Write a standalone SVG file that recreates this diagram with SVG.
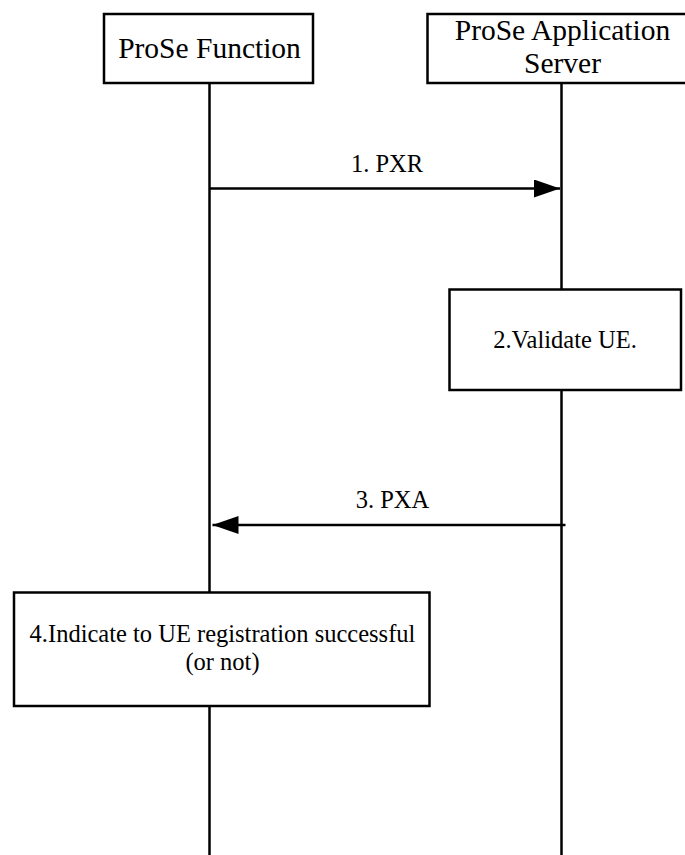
<svg xmlns="http://www.w3.org/2000/svg" width="685" height="855" viewBox="0 0 685 855">
<style>
.box{fill:#fff;stroke:#000;stroke-width:2.5}
.life{stroke:#000;stroke-width:2.5;fill:none}
.msg{stroke:#000;stroke-width:2.5;fill:none}
text{font-family:'Liberation Serif','Times New Roman',serif;fill:#000;text-anchor:middle}
.h{font-size:29.5px}
.s{font-size:24.5px}
</style>
<defs>
<marker id="ah" markerUnits="userSpaceOnUse" markerWidth="28" markerHeight="20" refX="26" refY="9" orient="auto">
<path d="M0,0 L26,9 L0,18 Z" fill="#000"/>
</marker>
</defs>
<rect width="685" height="855" fill="#fff"/>
<g id="lifelines">
<line class="life" x1="209.5" y1="83" x2="209.5" y2="855"/>
<line class="life" x1="561.5" y1="83" x2="561.5" y2="855"/>
</g>
<g id="pf">
<rect class="box" x="104" y="14" width="209" height="69"/>
<text class="h" x="209.5" y="57.5">ProSe Function</text>
</g>
<g id="pas">
<rect class="box" x="427.5" y="14" width="270" height="69"/>
<text class="h" x="562.5" y="39.5">ProSe Application</text>
<text class="h" x="562.5" y="73">Server</text>
</g>
<g id="connectors">
<line class="msg" x1="209.5" y1="188.5" x2="560" y2="188.5" marker-end="url(#ah)"/>
<text class="s" x="387" y="172">1. PXR</text>
<line class="msg" x1="565.5" y1="525" x2="212.5" y2="525" marker-end="url(#ah)"/>
<text class="s" x="392.5" y="507.5">3. PXA</text>
</g>
<g id="validate">
<rect class="box" x="449.5" y="289.5" width="231.5" height="100.5"/>
<text class="s" x="565" y="347.5">2.Validate UE.</text>
</g>
<g id="indicate">
<rect class="box" x="14" y="592.5" width="415.5" height="113.5"/>
<text class="s" x="222.5" y="641.5">4.Indicate to UE registration successful</text>
<text class="s" x="222.5" y="669.5">(or not)</text>
</g>
</svg>
